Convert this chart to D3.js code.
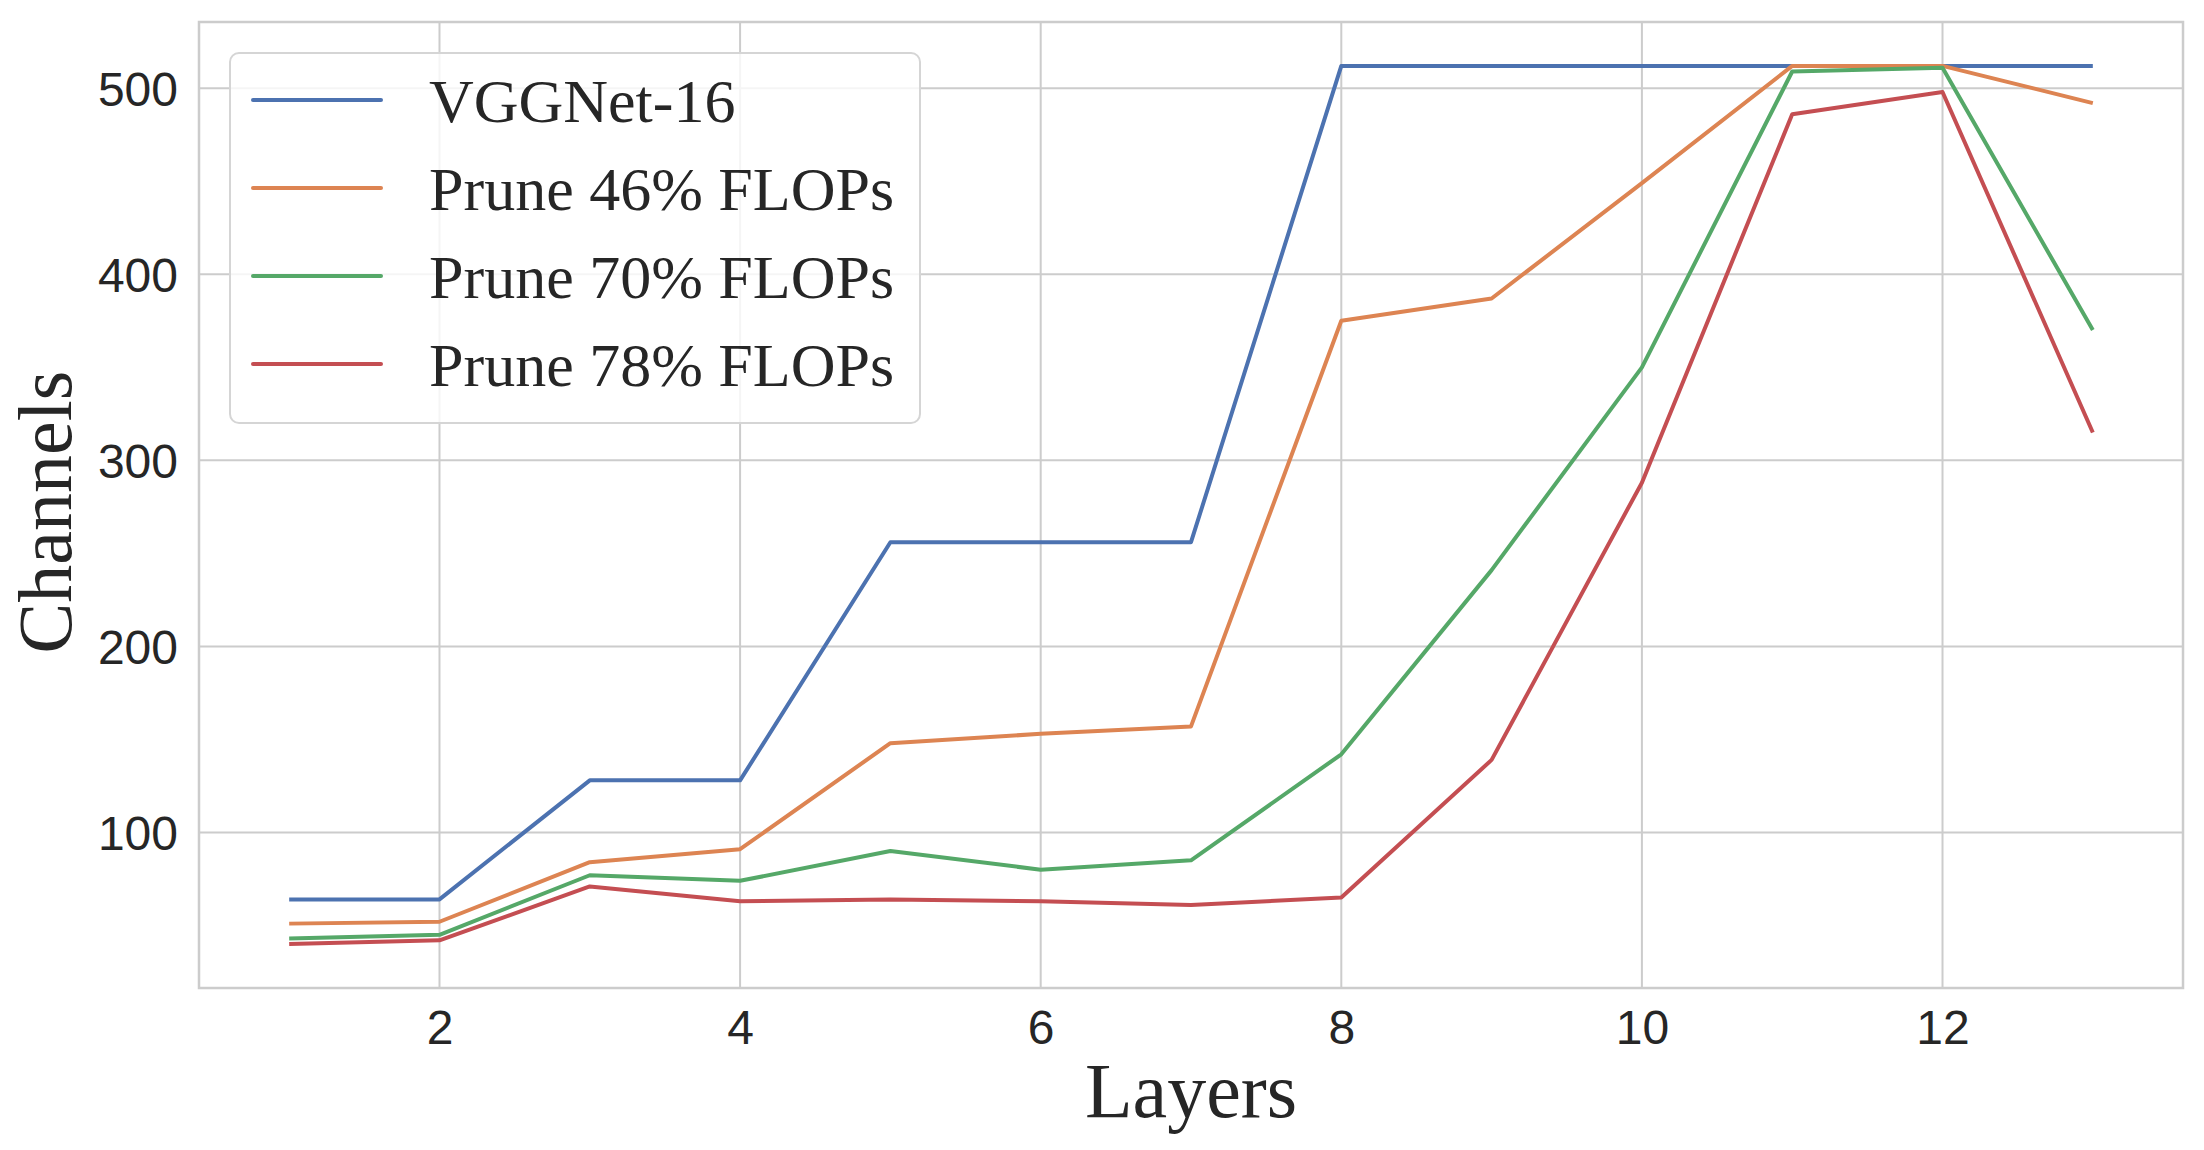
<!DOCTYPE html>
<html>
<head>
<meta charset="utf-8">
<script src="https://cdn.jsdelivr.net/npm/d3@7"></script>
<style>
  body { margin: 0; background: #ffffff; }
</style>
</head>
<body>
<div id="chart"></div>
<script>
// data
var layers = [1, 2, 3, 4, 5, 6, 7, 8, 9, 10, 11, 12, 13];
var vgg16 = [64, 64, 128, 128, 256, 256, 256, 512, 512, 512, 512, 512, 512];
var prune46 = [51, 52, 84, 91, 148, 153, 157, 375, 387, 449, 512, 512, 492];
var prune70 = [43, 45, 77, 74, 90, 80, 85, 142, 241, 350, 509, 511, 370];
var prune78 = [40, 42, 71, 63, 64, 63, 61, 65, 139, 288, 486, 498, 315];
var seriesNames = ["VGGNet-16", "Prune 46% FLOPs", "Prune 70% FLOPs", "Prune 78% FLOPs"];
var seriesColors = ["#4c72b0", "#dd8452", "#55a868", "#c44e52"];
var xTicks = [2, 4, 6, 8, 10, 12];
var yTicks = [100, 200, 300, 400, 500];

var W = 2204, H = 1150;
var margin = { top: 22, right: 21, bottom: 162, left: 199 };
var width = W - margin.left - margin.right,
    height = H - margin.top - margin.bottom;

var svg = d3.select("#chart")
    .append("svg")
    .attr("width", W)
    .attr("height", H);

svg.append("rect").attr("width", W).attr("height", H).attr("fill", "#ffffff");

var g = svg.append("g")
    .attr("transform", "translate(" + margin.left + "," + margin.top + ")");

// matplotlib style auto limits (5% padding)
var x = d3.scaleLinear().domain([0.4, 13.6]).range([0, width]);
var y = d3.scaleLinear().domain([16.4, 535.6]).range([height, 0]);

// grid
g.append("g")
    .selectAll("line")
    .data(xTicks)
    .enter().append("line")
    .attr("x1", function (d) { return x(d); })
    .attr("x2", function (d) { return x(d); })
    .attr("y1", 0).attr("y2", height)
    .attr("stroke", "#cccccc").attr("stroke-width", 2);

g.append("g")
    .selectAll("line")
    .data(yTicks)
    .enter().append("line")
    .attr("x1", 0).attr("x2", width)
    .attr("y1", function (d) { return y(d); })
    .attr("y2", function (d) { return y(d); })
    .attr("stroke", "#cccccc").attr("stroke-width", 2);

// axes (labels only, no tick marks)
var xAxis = g.append("g")
    .attr("transform", "translate(0," + height + ")")
    .call(d3.axisBottom(x).tickValues(xTicks).tickSize(0).tickPadding(22).tickFormat(d3.format("d")));
var yAxis = g.append("g")
    .call(d3.axisLeft(y).tickValues(yTicks).tickSize(0).tickPadding(21).tickFormat(d3.format("d")));

[xAxis, yAxis].forEach(function (a) {
    a.select(".domain").remove();
    a.selectAll("text")
        .attr("font-family", "'Liberation Sans', Arial, sans-serif")
        .attr("font-size", "48px")
        .attr("fill", "#262626");
});
yAxis.selectAll("text").attr("dy", "0.35em");

// lines
var allSeries = [vgg16, prune46, prune70, prune78];
var line = d3.line()
    .x(function (d, i) { return x(layers[i]); })
    .y(function (d) { return y(d); });

g.append("g")
    .selectAll("path")
    .data(allSeries)
    .enter().append("path")
    .attr("d", line)
    .attr("fill", "none")
    .attr("stroke", function (d, i) { return seriesColors[i]; })
    .attr("stroke-width", 4)
    .attr("stroke-linejoin", "round")
    .attr("stroke-linecap", "butt");

// spines
g.append("rect")
    .attr("x", 0).attr("y", 0)
    .attr("width", width).attr("height", height)
    .attr("fill", "none")
    .attr("stroke", "#cccccc")
    .attr("stroke-width", 2.5);

// legend
var legend = g.append("g")
    .attr("transform", "translate(" + (230 - margin.left) + "," + (53 - margin.top) + ")");

legend.append("rect")
    .attr("width", 690).attr("height", 370)
    .attr("rx", 9).attr("ry", 9)
    .attr("fill", "#ffffff").attr("fill-opacity", 0.8)
    .attr("stroke", "#d5d5d5").attr("stroke-width", 2);

var rows = legend.selectAll(".lineLegend")
    .data(seriesNames)
    .enter().append("g")
    .attr("class", "lineLegend")
    .attr("transform", function (d, i) { return "translate(0," + (47 + i * 88) + ")"; });

rows.append("line")
    .attr("x1", 23).attr("x2", 151)
    .attr("y1", 0).attr("y2", 0)
    .attr("stroke", function (d, i) { return seriesColors[i]; })
    .attr("stroke-width", 4)
    .attr("stroke-linecap", "round");

rows.append("text")
    .attr("x", 199).attr("y", 22)
    .attr("font-family", "'Liberation Serif', 'Times New Roman', serif")
    .attr("font-size", "62px")
    .attr("fill", "#262626")
    .text(function (d) { return d; });

// axis titles
svg.append("text")
    .attr("x", margin.left + width / 2)
    .attr("y", 1117)
    .attr("text-anchor", "middle")
    .attr("font-family", "'Liberation Serif', 'Times New Roman', serif")
    .attr("font-size", "78px")
    .attr("fill", "#262626")
    .text("Layers");

svg.append("text")
    .attr("transform", "translate(71," + (margin.top + height / 2 + 7) + ") rotate(-90)")
    .attr("text-anchor", "middle")
    .attr("font-family", "'Liberation Serif', 'Times New Roman', serif")
    .attr("font-size", "76px")
    .attr("fill", "#262626")
    .text("Channels");
</script>
</body>
</html>
